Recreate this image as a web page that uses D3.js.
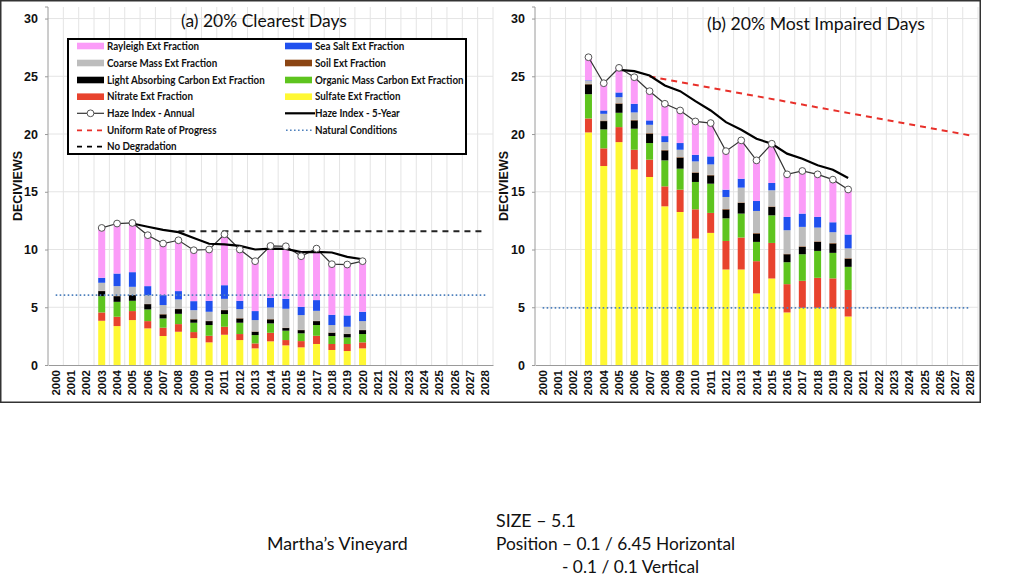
<!DOCTYPE html>
<html><head><meta charset="utf-8">
<script src="https://cdn.jsdelivr.net/npm/d3@7"></script>
<style>body{margin:0;background:#fff}</style>
</head><body>
<svg id="c" width="1024" height="576"></svg>
<script>
// ---------- DATA ----------
const axisYears = d3.range(2000, 2029);
const barYears = d3.range(2003, 2021);
const fiveYrYears = d3.range(2005, 2021);
const yTicks = [0, 5, 10, 15, 20, 25, 30];

const keys = ["sulfate","nitrate","omc","lac","soil","coarse","seasalt","rayleigh"];

// (a) 20% Clearest Days (deciviews per component)
const clearSulfate  = [3.83,3.37,3.89,3.17,2.51,2.88,2.33,1.96,2.62,2.16,1.44,2.05,1.70,1.53,1.82,1.30,1.21,1.44];
const clearNitrate  = [0.72,0.81,0.78,0.63,0.72,0.66,0.52,0.57,0.69,0.52,0.43,0.74,0.46,0.54,0.71,0.52,0.61,0.52];
const clearOMC      = [1.41,1.29,0.89,1.01,0.80,0.89,0.81,0.93,1.10,0.98,0.72,0.81,0.81,0.67,0.93,0.69,0.57,0.72];
const clearLAC      = [0.44,0.49,0.49,0.46,0.35,0.41,0.29,0.34,0.34,0.37,0.29,0.35,0.23,0.28,0.34,0.28,0.29,0.34];
const clearSoil     = [0.03,0.03,0.03,0.03,0.03,0.03,0.03,0.03,0.03,0.03,0.03,0.03,0.03,0.03,0.03,0.03,0.03,0.03];
const clearCoarse   = [0.69,0.84,0.69,0.75,0.78,0.81,0.77,0.78,0.95,0.78,0.98,1.00,1.64,1.27,0.86,0.64,0.60,0.75];
const clearSeaSalt  = [0.43,1.09,1.27,0.78,0.86,0.72,0.78,0.95,1.18,0.72,0.78,0.84,0.86,0.72,0.93,0.89,0.98,0.81];
const clearRayleigh = [4.32,4.33,4.26,4.41,4.47,4.40,4.41,4.44,4.41,4.44,4.32,4.49,4.55,4.38,4.46,4.38,4.41,4.38];
const clearHazeAnnual = [11.87,12.25,12.30,11.24,10.52,10.80,9.94,10.00,11.32,10.00,8.99,10.31,10.28,9.42,10.08,8.73,8.70,8.99];
const clearHaze5Yr = [12.25,11.97,11.70,11.50,11.00,10.50,10.45,10.32,10.00,10.08,10.05,9.77,9.80,9.74,9.36,9.16];
const clearNoDegYears = [2008, 2028];
const clearNoDegValues = [11.58, 11.58];
const clearNaturalYears = [2000, 2028];
const clearNaturalValues = [6.05, 6.05];

// (b) 20% Most Impaired Days
const impSulfate  = [20.14,17.23,19.30,16.94,16.28,13.74,13.25,10.95,11.44,8.27,8.27,6.20,7.49,4.55,4.95,4.95,4.90,4.20];
const impNitrate  = [1.21,1.53,1.30,1.70,1.50,1.73,1.93,2.53,1.73,2.47,2.77,2.79,3.08,2.45,2.34,2.60,2.60,2.30];
const impOMC      = [2.10,1.64,1.24,1.82,1.44,2.25,1.82,2.37,2.53,1.96,2.07,1.67,2.39,1.90,2.30,2.33,2.21,2.00];
const impLAC      = [0.85,0.72,0.78,0.72,0.81,0.86,0.95,0.79,0.72,0.76,0.92,0.72,0.72,0.69,0.64,0.78,0.81,0.70];
const impSoil     = [0.05,0.05,0.05,0.05,0.05,0.05,0.05,0.05,0.05,0.05,0.05,0.05,0.05,0.05,0.05,0.05,0.05,0.05];
const impCoarse   = [0.27,0.58,0.52,0.64,0.72,0.67,0.64,0.94,0.90,1.04,1.28,1.91,1.40,2.03,1.68,1.19,0.93,0.85];
const impSeaSalt  = [0.04,0.29,0.41,0.75,0.38,0.52,0.58,0.57,0.69,0.63,0.77,0.86,0.63,1.15,1.15,0.92,0.86,1.20];
const impRayleigh = [1.99,2.36,2.13,2.30,2.53,2.80,2.82,2.89,2.89,3.34,3.32,3.52,3.40,3.69,3.69,3.69,3.69,3.90];
const impHazeAnnual = [26.65,24.40,25.73,24.92,23.71,22.62,22.04,21.09,20.95,18.52,19.45,17.72,19.16,16.51,16.80,16.51,16.05,15.20];
const impHaze5Yr = [25.55,25.44,25.07,24.20,23.71,22.85,22.04,21.03,20.37,19.59,19.16,18.30,17.86,17.29,16.91,16.19];
const impURPYears = [2007, 2028];
const impURPValues = [24.98, 19.88];
const impNaturalYears = [2000, 2028];
const impNaturalValues = [4.95, 4.95];

const legendLabels = {
  rayleigh:"Rayleigh Ext Fraction", seasalt:"Sea Salt Ext Fraction",
  coarse:"Coarse Mass Ext Fraction", soil:"Soil Ext Fraction",
  lac:"Light Absorbing Carbon Ext Fraction", omc:"Organic Mass Carbon Ext Fraction",
  nitrate:"Nitrate Ext Fraction", sulfate:"Sulfate Ext Fraction",
  annual:"Haze Index - Annual", fiveyr:"Haze Index - 5-Year",
  urp:"Uniform Rate of Progress", natural:"Natural Conditions",
  nodeg:"No Degradation"
};
const legendOrder = ["rayleigh","seasalt","coarse","soil","lac","omc","nitrate","sulfate","annual","fiveyr","urp","natural","nodeg"];

// ---------- STYLE ----------
const colors = {
  sulfate:"#FFF833", nitrate:"#E8432E", omc:"#5EC41E", lac:"#000000",
  soil:"#8B4513", coarse:"#BDBDBD", seasalt:"#2050EE", rayleigh:"#FB9CF8"
};

const svg = d3.select("#c");
svg.append("rect").attr("width",1024).attr("height",576).attr("fill","#fff");

function buildRows(s) {
  return barYears.map((yr,i) => {
    const o = {year: yr};
    keys.forEach(k => o[k] = s[k][i]);
    return o;
  });
}

function fit(sel, w) {
  const l = sel.node().getComputedTextLength();
  const fs = parseFloat(sel.attr("font-size"));
  sel.attr("font-size", fs * w / l);
}

function drawPanel(cfg) {
  const g = svg.append("g");
  const x = d3.scaleBand().domain(axisYears).range([cfg.x0, cfg.x1]);
  const y = d3.scaleLinear().domain([0, 31]).range([365, 7]);
  const bw = 7;
  const cx = yr => x(yr) + x.bandwidth()/2;

  // grid
  const edges = axisYears.slice(1).map(yr => x(yr)).concat([cfg.x1]);
  g.selectAll(".vg").data(edges).join("line")
    .attr("x1", d=>d).attr("x2", d=>d).attr("y1", 7).attr("y2", 365)
    .attr("stroke", "#e4e4e4").attr("stroke-width", 1);
  g.selectAll(".hg").data(yTicks.filter(d=>d>0)).join("line")
    .attr("x1", cfg.x0).attr("x2", cfg.x1).attr("y1", d=>y(d)).attr("y2", d=>y(d))
    .attr("stroke", "#e4e4e4").attr("stroke-width", 1);

  // axes
  const ya = g.append("g").attr("transform", `translate(${cfg.x0},0)`)
    .call(d3.axisLeft(y).tickValues(yTicks).tickSize(3).tickPadding(7));
  ya.select(".domain").attr("stroke", "#9a9a9a").attr("d", `M-3,7H0V365`);
  ya.selectAll(".tick line").attr("stroke", "#9a9a9a");
  ya.selectAll(".tick text").attr("font-family", "Liberation Sans, Arial, sans-serif")
    .attr("font-weight", "bold").attr("font-size", 12.5).attr("fill", "#111");

  const xa = g.append("g").attr("transform", `translate(0,365)`)
    .call(d3.axisBottom(x).tickValues(axisYears).tickSize(0).tickPadding(4));
  xa.select(".domain").attr("stroke", "#9a9a9a");
  xa.selectAll(".tick text")
    .attr("font-family", "Liberation Sans, Arial, sans-serif").attr("font-weight", "bold")
    .attr("font-size", 11.5).attr("fill", "#111")
    .attr("transform", "rotate(-90)").attr("text-anchor", "end")
    .attr("x", -5).attr("y", 0).attr("dy", "0.35em");

  // y title
  g.append("text").attr("transform", `translate(${cfg.ylabX},186) rotate(-90)`)
    .attr("text-anchor", "middle").attr("font-family", "Liberation Sans, Arial, sans-serif")
    .attr("font-weight", "bold").attr("font-size", 12.5).attr("fill", "#111")
    .attr("dy", "0.35em").text("DECIVIEWS");

  // bars
  const rows = buildRows(cfg.series);
  const stacked = d3.stack().keys(keys)(rows);
  g.append("g").selectAll("g").data(stacked).join("g")
    .attr("fill", d => colors[d.key])
    .selectAll("rect").data(d => d).join("rect")
    .attr("x", d => cx(d.data.year) - bw/2).attr("width", bw)
    .attr("y", d => y(d[1])).attr("height", d => Math.max(0, y(d[0]) - y(d[1])));

  const lineGen = d3.line().x(d => cx(d[0])).y(d => y(d[1]));

  // natural conditions
  g.append("path").datum(d3.zip(cfg.natYears, cfg.natValues))
    .attr("d", lineGen).attr("fill", "none").attr("stroke", "#4F81BD")
    .attr("stroke-width", 1.6).attr("stroke-dasharray", "1.6,2.4");

  // reference dashed line
  if (cfg.refYears) {
    g.append("path").datum(d3.zip(cfg.refYears, cfg.refValues))
      .attr("d", lineGen).attr("fill", "none").attr("stroke", cfg.refColor)
      .attr("stroke-width", 2).attr("stroke-dasharray", "6,5");
  }

  // annual haze
  const annual = d3.zip(barYears, cfg.annual);
  g.append("path").datum(annual).attr("d", lineGen).attr("fill", "none")
    .attr("stroke", "#333").attr("stroke-width", 1.2);
  // 5-year
  g.append("path").datum(d3.zip(fiveYrYears, cfg.five)).attr("d", lineGen).attr("fill", "none")
    .attr("stroke", "#000").attr("stroke-width", 2.2);
  g.selectAll(".pt").data(annual).join("circle")
    .attr("cx", d => cx(d[0])).attr("cy", d => y(d[1])).attr("r", 3.4)
    .attr("fill", "#fff").attr("stroke", "#555").attr("stroke-width", 1);

  // title
  const t = g.append("text").attr("x", cfg.titleX).attr("y", cfg.titleY)
    .attr("text-anchor", "middle").attr("font-family", "Lato, 'Open Sans', sans-serif")
    .attr("font-size", 18).attr("fill", "#111").text(cfg.title);
  fit(t, cfg.titleW);
}

drawPanel({
  x0: 48, x1: 493, ylabX: 18,
  series: {sulfate:clearSulfate, nitrate:clearNitrate, omc:clearOMC, lac:clearLAC,
           soil:clearSoil, coarse:clearCoarse, seasalt:clearSeaSalt, rayleigh:clearRayleigh},
  annual: clearHazeAnnual, five: clearHaze5Yr,
  natYears: clearNaturalYears, natValues: clearNaturalValues,
  refYears: clearNoDegYears, refValues: clearNoDegValues, refColor: "#222",
  title: "(a) 20% Clearest Days", titleX: 264, titleY: 27, titleW: 166
});

drawPanel({
  x0: 535, x1: 978, ylabX: 504,
  series: {sulfate:impSulfate, nitrate:impNitrate, omc:impOMC, lac:impLAC,
           soil:impSoil, coarse:impCoarse, seasalt:impSeaSalt, rayleigh:impRayleigh},
  annual: impHazeAnnual, five: impHaze5Yr,
  natYears: impNaturalYears, natValues: impNaturalValues,
  refYears: impURPYears, refValues: impURPValues, refColor: "#E8302A",
  title: "(b) 20% Most Impaired Days", titleX: 816, titleY: 30, titleW: 218
});

// ---------- LEGEND ----------
const lg = svg.append("g");
lg.append("rect").attr("x", 68).attr("y", 39).attr("width", 398).attr("height", 115)
  .attr("fill", "#fff").attr("stroke", "#000").attr("stroke-width", 2);
const colX = [77, 285];
const rowY = [46, 63, 80, 96.7, 113.3, 130.3, 146.7];
const legendFS = 10.5;
// horizontal compression so the longest label fits its measured width
const probe = lg.append("text").attr("font-family", "Lato, 'Open Sans', sans-serif")
  .attr("font-weight", "bold").attr("font-size", legendFS).text(legendLabels.lac);
const legendSX = 158 / probe.node().getComputedTextLength();
probe.remove();
legendOrder.forEach((k, i) => {
  const cxl = colX[i % 2], cyl = rowY[Math.floor(i / 2)];
  const sw = lg.append("g");
  if (colors[k]) {
    sw.append("rect").attr("x", cxl).attr("y", cyl - 3.3).attr("width", 27).attr("height", 6.6)
      .attr("fill", colors[k]);
  } else if (k === "annual") {
    sw.append("line").attr("x1", cxl).attr("x2", cxl + 27).attr("y1", cyl).attr("y2", cyl)
      .attr("stroke", "#333").attr("stroke-width", 1.2);
    sw.append("circle").attr("cx", cxl + 13.5).attr("cy", cyl).attr("r", 3.4)
      .attr("fill", "#fff").attr("stroke", "#555");
  } else if (k === "fiveyr") {
    sw.append("line").attr("x1", cxl).attr("x2", cxl + 30).attr("y1", cyl).attr("y2", cyl)
      .attr("stroke", "#000").attr("stroke-width", 2.2);
  } else if (k === "urp" || k === "nodeg") {
    sw.append("line").attr("x1", cxl).attr("x2", cxl + 29).attr("y1", cyl).attr("y2", cyl)
      .attr("stroke", k === "urp" ? "#E8302A" : "#000").attr("stroke-width", 1.8)
      .attr("stroke-dasharray", "5,5");
  } else if (k === "natural") {
    sw.append("line").attr("x1", cxl + 1).attr("x2", cxl + 27).attr("y1", cyl).attr("y2", cyl)
      .attr("stroke", "#4F81BD").attr("stroke-width", 1.6).attr("stroke-dasharray", "1.6,2.4");
  }
  lg.append("text").attr("transform", `translate(${cxl + 30},${cyl}) scale(${legendSX},1)`)
    .attr("dy", "0.36em")
    .attr("font-family", "Lato, 'Open Sans', sans-serif").attr("font-weight", "bold")
    .attr("font-size", legendFS).attr("fill", "#111").text(legendLabels[k]);
});

// ---------- FRAME ----------
svg.append("rect").attr("x", 0.75).attr("y", 0.75).attr("width", 979.5).attr("height", 401.5)
  .attr("fill", "none").attr("stroke", "#333").attr("stroke-width", 1.5);

// ---------- CAPTION ----------
const capFont = "Lato, 'Open Sans', sans-serif";
const c1 = svg.append("text").attr("x", 267).attr("y", 550).attr("font-family", capFont)
  .attr("font-size", 18).attr("fill", "#111").text("Martha\u2019s Vineyard");
fit(c1, 141);
const cfs = parseFloat(c1.attr("font-size"));
svg.append("text").attr("x", 496).attr("y", 527).attr("font-family", capFont)
  .attr("font-size", cfs).attr("fill", "#111").text("SIZE \u2013 5.1");
const c3 = svg.append("text").attr("x", 496).attr("y", 550).attr("font-family", capFont)
  .attr("font-size", cfs).attr("fill", "#111").text("Position \u2013 0.1 / 6.45 Horizontal");
fit(c3, 239);
svg.append("text").attr("x", 562).attr("y", 573).attr("font-family", capFont)
  .attr("font-size", parseFloat(c3.attr("font-size"))).attr("fill", "#111").text("- 0.1 / 0.1 Vertical");
</script>
</body></html>
